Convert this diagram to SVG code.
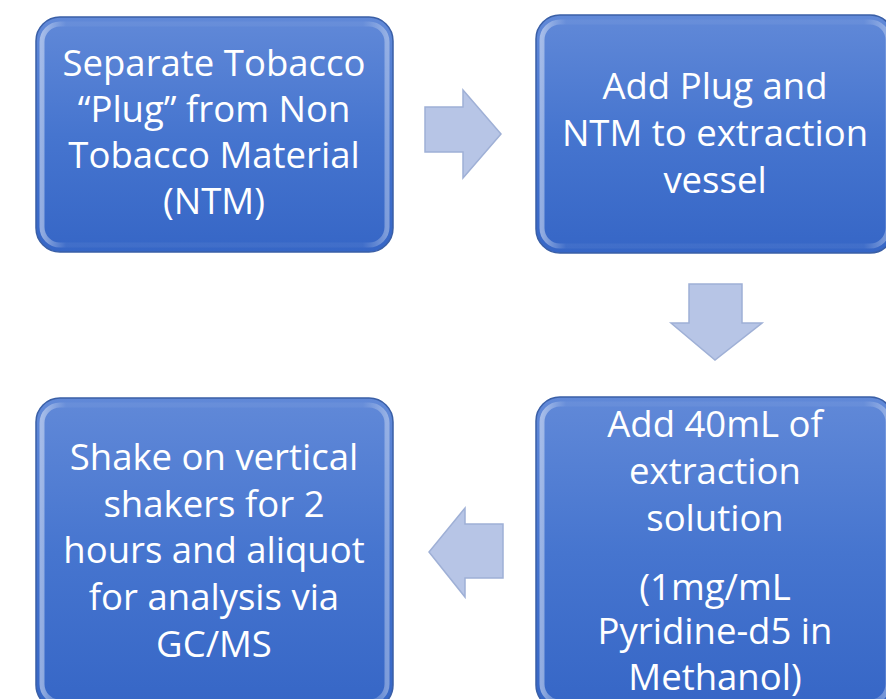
<svg xmlns="http://www.w3.org/2000/svg" width="886" height="699" viewBox="0 0 886 699">
<defs>
<linearGradient id="boxg" x1="0" y1="0" x2="0" y2="1">
<stop offset="0" stop-color="#6189d8"/>
<stop offset="0.5" stop-color="#4675cf"/>
<stop offset="1" stop-color="#3666c6"/>
</linearGradient>
<linearGradient id="bevel" x1="0" y1="0" x2="1" y2="0">
<stop offset="0" stop-color="#ffffff" stop-opacity="0.45"/>
<stop offset="0.07" stop-color="#ffffff" stop-opacity="0.05"/>
<stop offset="0.93" stop-color="#ffffff" stop-opacity="0.05"/>
<stop offset="1" stop-color="#ffffff" stop-opacity="0.35"/>
</linearGradient>
</defs>
<style>
.box{fill:url(#boxg);stroke:#3a5fa6;stroke-width:1.5}
.bev{fill:none;stroke:url(#bevel);stroke-width:5}
.t{font-family:"Open Sans","Noto Sans",sans-serif;font-size:36.5px;fill:#ffffff;text-anchor:middle}
.arr{fill:#b7c5e6;stroke:#9fb0d6;stroke-width:1.5;stroke-linejoin:miter}
</style>
<rect width="886" height="699" fill="#ffffff"/>
<g id="connectors">
<polygon class="arr" points="425,107 463,107 463,90 501,134 463,178 463,152 425,152"/>
<polygon class="arr" points="689,284 742,284 742,323 762,323 715,360 671,323 689,323"/>
<polygon class="arr" points="503,524 465,524 465,508 429,552 465,597 465,578 503,578"/>
</g>
<g id="node1">
<rect class="box" x="36" y="17" width="357" height="235" rx="24"/>
<rect class="bev" x="42" y="24" width="345" height="221" rx="18"/>
<text class="t" x="214" y="76">Separate Tobacco</text>
<text class="t" x="214" y="122">“Plug” from Non</text>
<text class="t" x="214" y="168">Tobacco Material</text>
<text class="t" x="214" y="214">(NTM)</text>
</g>
<g id="node2">
<rect class="box" x="536" y="15" width="358" height="238" rx="24"/>
<rect class="bev" x="542" y="22" width="346" height="224" rx="18"/>
<text class="t" x="715" y="99">Add Plug and</text>
<text class="t" x="715" y="146">NTM to extraction</text>
<text class="t" x="715" y="193">vessel</text>
</g>
<g id="node3">
<rect class="box" x="536" y="397" width="358" height="312" rx="24"/>
<rect class="bev" x="542" y="404" width="346" height="298" rx="18"/>
<text class="t" x="715" y="437">Add 40mL of</text>
<text class="t" x="715" y="484">extraction</text>
<text class="t" x="715" y="531">solution</text>
<text class="t" x="715" y="600">(1mg/mL</text>
<text class="t" x="715" y="644">Pyridine-d5 in</text>
<text class="t" x="715" y="690">Methanol)</text>
</g>
<g id="node4">
<rect class="box" x="36" y="398" width="357" height="311" rx="24"/>
<rect class="bev" x="42" y="405" width="345" height="297" rx="18"/>
<text class="t" x="214" y="470">Shake on vertical</text>
<text class="t" x="214" y="517">shakers for 2</text>
<text class="t" x="214" y="563">hours and aliquot</text>
<text class="t" x="214" y="610">for analysis via</text>
<text class="t" x="214" y="657">GC/MS</text>
</g>
</svg>
